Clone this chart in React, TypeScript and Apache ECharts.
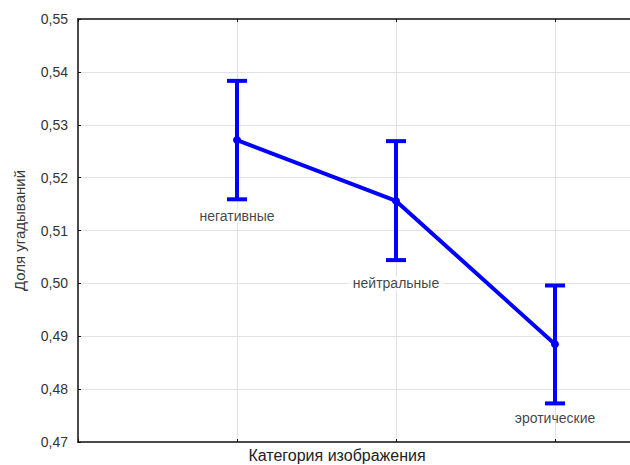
import React, { useEffect, useRef } from "react";
import * as echarts from "echarts";

// Mean share of correct guesses per image category, with confidence intervals
const categories = ["негативные", "нейтральные", "эротические"];
const means = [0.5271, 0.5156, 0.4885];
const lowerBounds = [0.5159, 0.5044, 0.4773];
const upperBounds = [0.5383, 0.5269, 0.4996];

const yMin = 0.47;
const yMax = 0.55;
const yStep = 0.01;

const FONT = "'Liberation Sans', Arial, sans-serif";
const BLUE = "#0000ff";
const AXIS = "#4a4a4a";
const GRID = "#e2e2e2";

// per-label spacing under the lower whisker and whether the label masks gridlines
const labelDistance = [10, 16, 8];
const labelMask = [true, true, false];

export default function App() {
  const ref = useRef<HTMLDivElement>(null);

  useEffect(() => {
    document.body.style.margin = "0";
    if (!ref.current) return;
    const chart = echarts.init(ref.current, undefined, { renderer: "svg" });

    const xs = categories.map((_, i) => i + 1);

    const option: any = {
      animation: false,
      backgroundColor: "#ffffff",
      grid: {
        left: 78,
        top: 19,
        right: -84,
        bottom: 23,
        outerBoundsMode: "none",
      },
      xAxis: [
        {
          type: "value",
          min: 0,
          max: 4,
          interval: 1,
          axisLine: { show: true, onZero: false, lineStyle: { color: AXIS, width: 2 } },
          axisTick: { show: true, inside: true, length: 3, lineStyle: { color: "#111", width: 1 } },
          axisLabel: { show: false },
          splitLine: { show: true, lineStyle: { color: GRID, width: 1 } },
        },
        {
          type: "value",
          position: "top",
          min: 0,
          max: 4,
          interval: 1,
          axisLine: { show: true, onZero: false, lineStyle: { color: AXIS, width: 2 } },
          axisTick: { show: true, inside: true, length: 3, lineStyle: { color: "#111", width: 1 } },
          axisLabel: { show: false },
          splitLine: { show: false },
        },
      ],
      yAxis: {
        type: "value",
        min: yMin,
        max: yMax,
        interval: yStep,
        name: "Доля угадываний",
        nameLocation: "middle",
        nameRotate: 90,
        nameGap: 51,
        nameTextStyle: { fontFamily: FONT, fontSize: 15, color: "#3a3a3a" },
        axisLine: { show: true, lineStyle: { color: AXIS, width: 2 } },
        axisTick: { show: true, inside: true, length: 3, lineStyle: { color: "#111", width: 1 } },
        axisLabel: {
          fontFamily: FONT,
          fontSize: 14,
          color: "#333",
          margin: 10,
          formatter: (v: number) => v.toFixed(2).replace(".", ","),
        },
        splitLine: { show: true, lineStyle: { color: GRID, width: 1 } },
      },
      graphic: [
        {
          type: "text",
          x: 337,
          y: 455,
          style: {
            text: "Категория изображения",
            fontFamily: FONT,
            fontSize: 16,
            fill: "#222",
            align: "center",
            verticalAlign: "middle",
          },
        },
      ],
      series: [
        {
          type: "custom",
          name: "ci",
          z: 3,
          renderItem: (_params: any, api: any) => {
            const x = api.value(0);
            const lo = api.coord([x, api.value(1)]);
            const hi = api.coord([x, api.value(2)]);
            const hw = 10;
            const style = { stroke: BLUE, lineWidth: 4 };
            return {
              type: "group",
              children: [
                { type: "line", shape: { x1: lo[0], y1: lo[1], x2: hi[0], y2: hi[1] }, style },
                { type: "line", shape: { x1: lo[0] - hw, y1: lo[1], x2: lo[0] + hw, y2: lo[1] }, style },
                { type: "line", shape: { x1: hi[0] - hw, y1: hi[1], x2: hi[0] + hw, y2: hi[1] }, style },
              ],
            };
          },
          data: xs.map((x, i) => [x, lowerBounds[i], upperBounds[i]]),
        },
        {
          type: "line",
          name: "mean",
          z: 4,
          data: xs.map((x, i) => [x, means[i]]),
          symbol: "circle",
          symbolSize: 8,
          itemStyle: { color: BLUE },
          lineStyle: { color: BLUE, width: 4 },
        },
        {
          type: "scatter",
          name: "labels",
          z: 5,
          symbolSize: 0,
          silent: true,
          data: xs.map((x, i) => ({
            value: [x, lowerBounds[i]],
            label: {
              show: true,
              position: "bottom",
              distance: labelDistance[i],
              formatter: categories[i],
              fontFamily: FONT,
              fontSize: 14,
              color: "#111",
              backgroundColor: labelMask[i] ? "#ffffff" : "transparent",
              padding: [0, 4],
            },
          })),
        },
      ],
    };

    chart.setOption(option);
    return () => chart.dispose();
  }, []);

  return <div ref={ref} style={{ width: 630, height: 465 }} />;
}
